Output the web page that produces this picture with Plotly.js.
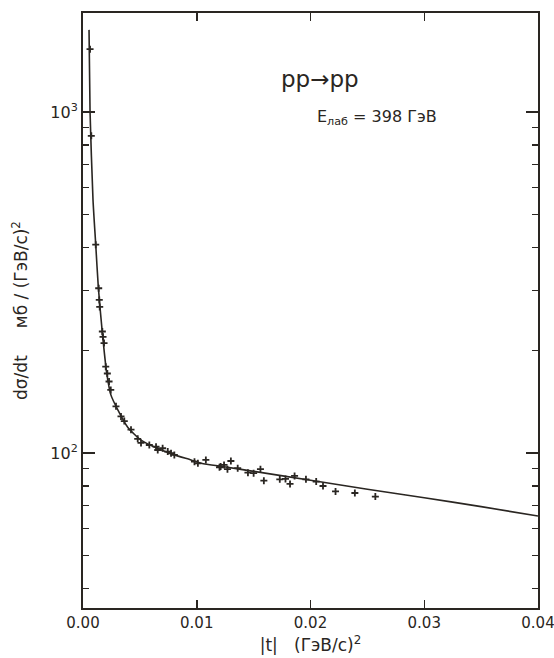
<!DOCTYPE html>
<html>
<head>
<meta charset="utf-8">
<script src="https://cdn.plot.ly/plotly-3.0.1.min.js"></script>
<style>html,body{margin:0;padding:0;background:#fff;}#chart{width:554px;height:658px;}</style>
</head>
<body>
<div id="chart"></div>
<script>
// Fitted curve: |t| in (GeV/c)^2, dsigma/dt in mb/(GeV/c)^2
const fitT   = [0.00053, 0.00062, 0.00088, 0.00112, 0.00135, 0.0017, 0.00208, 0.00245, 0.00305, 0.00393, 0.0051, 0.00657, 0.00803, 0.0095, 0.0104, 0.0124, 0.015, 0.02, 0.025, 0.03, 0.035, 0.04];
const fitVal = [1740, 1000, 552, 408, 305, 225, 172, 148, 134, 119, 109, 103, 98.7, 95.4, 93.3, 91.1, 88.3, 83.2, 78.3, 73.9, 69.6, 65.3];

// Measured points
const dataT = [0.00062, 0.00073, 0.00112, 0.00138, 0.00143, 0.00147, 0.0017, 0.00176, 0.00185, 0.002, 0.00214, 0.00229, 0.00244,
  0.0029, 0.00334, 0.00363, 0.00422, 0.00481, 0.0051, 0.00583, 0.00642, 0.00657, 0.007, 0.00745, 0.00774, 0.00803,
  0.0098, 0.0101, 0.0108, 0.012, 0.0121, 0.0124, 0.0127, 0.013, 0.0136, 0.0145, 0.015, 0.0156, 0.0159, 0.0173, 0.0178,
  0.0182, 0.0186, 0.0196, 0.0205, 0.0211, 0.0222, 0.0239, 0.0257];
const dataVal = [1527, 851, 408, 304, 281, 268, 227, 219, 210, 179, 171, 162, 153,
  137, 128, 124, 117, 110, 107, 105.5, 104.3, 102, 103.2, 100.9, 99.8, 98.7,
  94.3, 93.2, 95.4, 90.8, 91.2, 92.2, 89.6, 94.7, 90.2, 87.5, 87.2, 89.6, 82.9, 83.7, 83.9,
  81.1, 85.6, 83.7, 82.4, 80.0, 77.1, 76.3, 74.5];

const xTicks = [0, 0.01, 0.02, 0.03, 0.04];
const xTickText = ['0.00', '0.01', '0.02', '0.03', '0.04'];
const yTicks = [100, 1000];
const yTickText = ['10<sup>2</sup>', '10<sup>3</sup>'];
const yMinor = [40, 50, 60, 70, 80, 90, 200, 300, 400, 500, 600, 700, 800, 900];

const ink = '#2a2622';
const font = 'DejaVu Sans, Liberation Sans, sans-serif';

const traces = [
  {x: fitT, y: fitVal, type: 'scatter', mode: 'lines',
   line: {color: ink, width: 1.6, shape: 'spline', smoothing: 0.6}, hoverinfo: 'skip'},
  {x: dataT, y: dataVal, type: 'scatter', mode: 'markers',
   marker: {symbol: 'cross-thin-open', size: 5, color: ink, line: {color: ink, width: 1.8}}}
];

const layout = {
  width: 554, height: 658,
  margin: {l: 83, r: 16, t: 13, b: 50},
  paper_bgcolor: '#ffffff', plot_bgcolor: '#ffffff',
  showlegend: false,
  font: {family: font, color: ink, size: 14},
  xaxis: {
    range: [0, 0.04], tickmode: 'array', tickvals: xTicks, ticktext: xTickText,
    ticks: 'inside', ticklen: 8, tickwidth: 1.5, tickcolor: ink,
    showline: true, linecolor: ink, linewidth: 2, mirror: 'allticks',
    showgrid: false, zeroline: false, ticklabeloverflow: 'allow',
    tickfont: {family: font, size: 15, color: ink},
    title: {text: '|t|   (ГэВ/с)<sup>2</sup>', font: {family: font, size: 17, color: ink}, standoff: 8}
  },
  yaxis: {
    type: 'log', range: [Math.log10(35.1), Math.log10(1950)],
    tickmode: 'array', tickvals: yTicks, ticktext: yTickText,
    ticks: 'inside', ticklen: 12, tickwidth: 1.5, tickcolor: ink,
    minor: {tickmode: 'array', tickvals: yMinor, ticks: 'inside', ticklen: 6, tickwidth: 1.2, tickcolor: ink, showgrid: false},
    showline: true, linecolor: ink, linewidth: 2, mirror: 'allticks',
    showgrid: false, zeroline: false,
    tickfont: {family: font, size: 16, color: ink},
    title: {text: 'dσ/dt     мб / (ГэВ/с)<sup>2</sup>', font: {family: font, size: 17, color: ink}, standoff: 18}
  },
  annotations: [
    {xref: 'paper', yref: 'paper', x: 0.521, y: 0.889, xanchor: 'center', yanchor: 'middle',
     text: 'pp→pp', showarrow: false, font: {family: font, size: 23, color: ink}},
    {xref: 'paper', yref: 'paper', x: 0.646, y: 0.825, xanchor: 'center', yanchor: 'middle',
     text: 'E<sub>лаб</sub> = 398 ГэВ', showarrow: false, font: {family: font, size: 16, color: ink}}
  ]
};

Plotly.newPlot('chart', traces, layout, {staticPlot: true, displayModeBar: false});
</script>
</body>
</html>
